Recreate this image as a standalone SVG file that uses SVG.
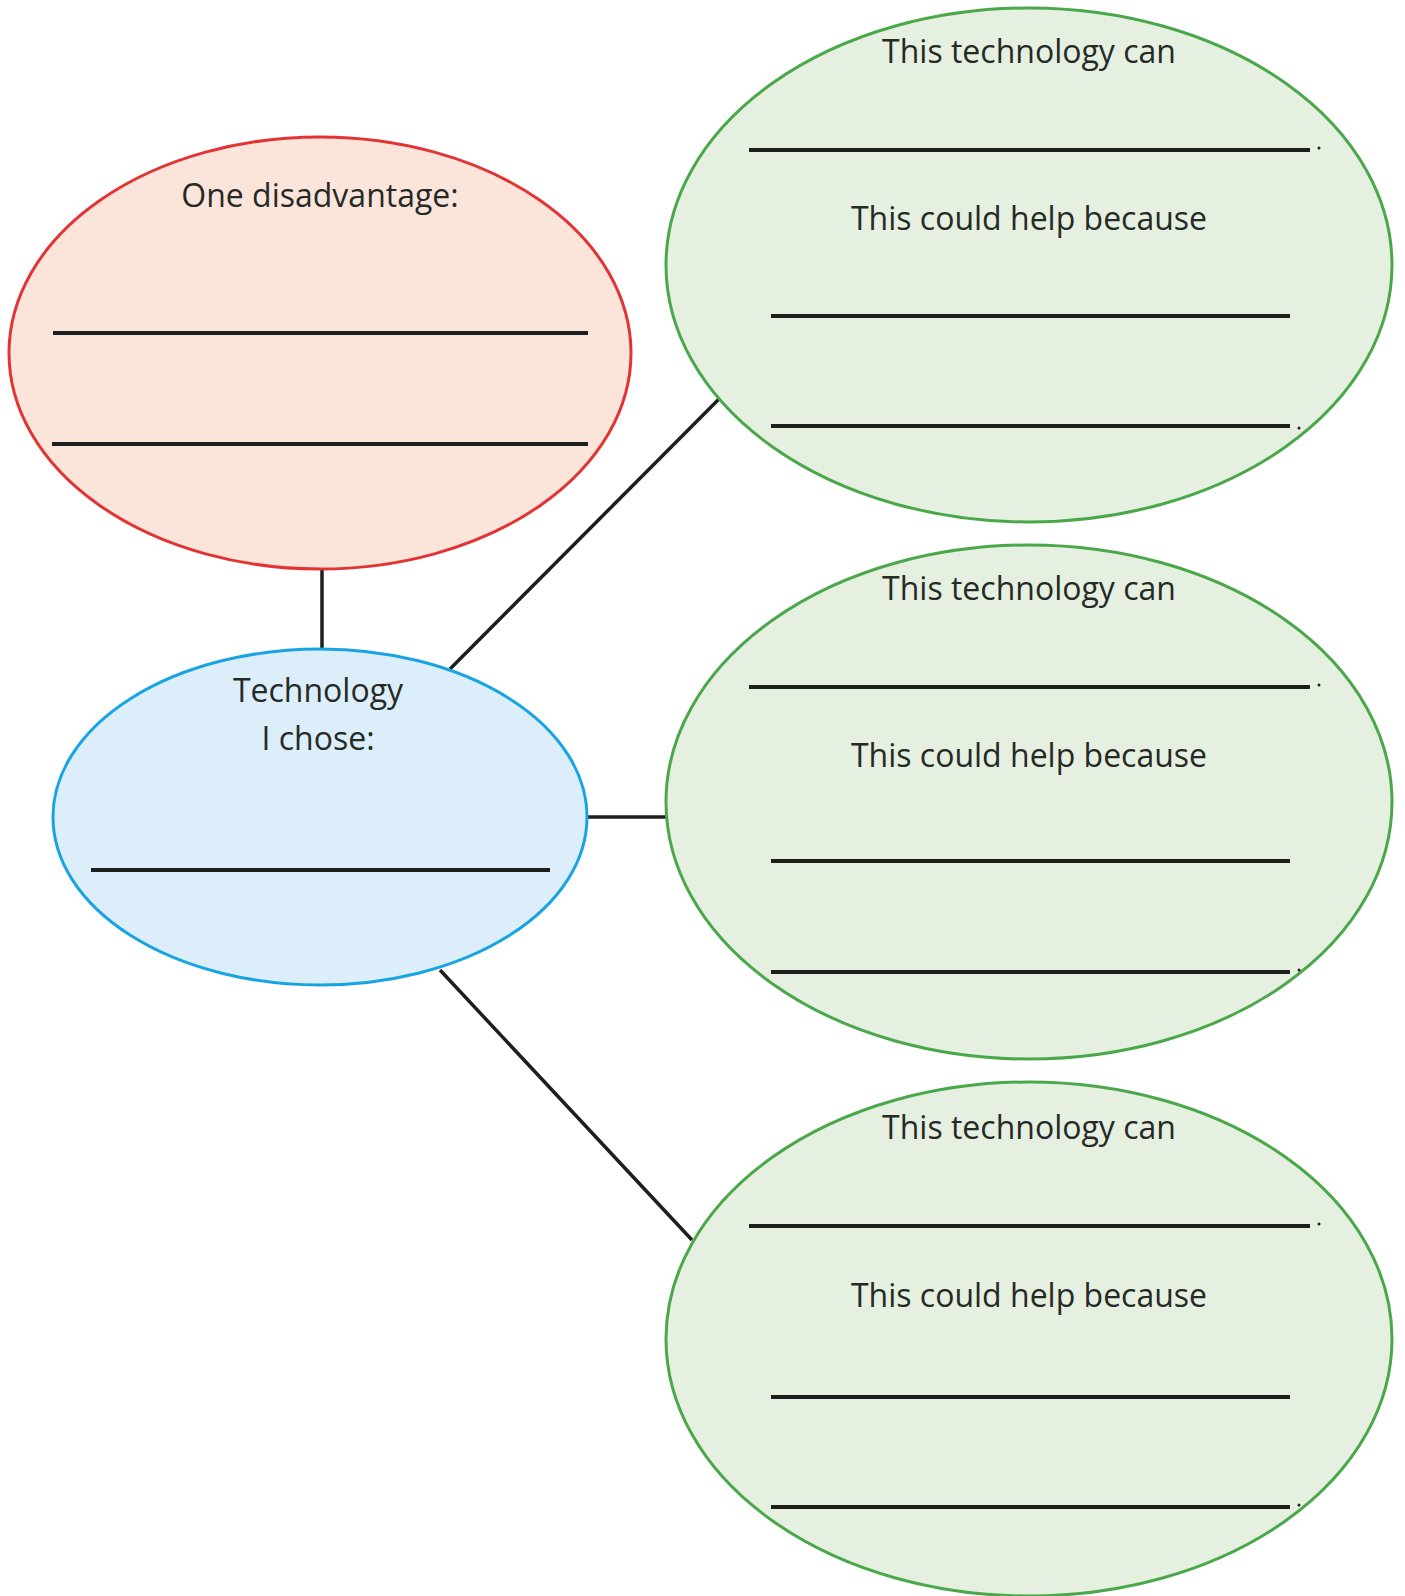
<svg xmlns="http://www.w3.org/2000/svg" width="1405" height="1596" viewBox="0 0 1405 1596">
<style>
.t{font-family:"Open Sans","Liberation Sans",sans-serif;font-size:32px;fill:#262a26;text-anchor:middle}
.w{stroke:#1c1f1c;stroke-width:4;fill:none}
.c{stroke:#1e1e1e;stroke-width:3.5;fill:none}
.g{fill:#e5f0e1;stroke:#4aa84a;stroke-width:3}
.d{fill:#1e1e1e}
</style>
<rect width="1405" height="1596" fill="#ffffff"/>
<g id="connectors">
<line class="c" x1="322" y1="570" x2="322" y2="650"/>
<line class="c" x1="450" y1="669" x2="719" y2="399"/>
<line class="c" x1="587" y1="817" x2="667" y2="817"/>
<line class="c" x1="440" y1="970" x2="692" y2="1240"/>
</g>
<g id="disadvantage">
<ellipse cx="320" cy="353" rx="311" ry="216" fill="#fbe5da" stroke="#e23434" stroke-width="3"/>
<text class="t" x="320" y="207">One disadvantage:</text>
<line class="w" x1="53" y1="333" x2="588" y2="333"/>
<line class="w" x1="52" y1="444" x2="588" y2="444"/>
</g>
<g id="technology">
<ellipse cx="320" cy="817" rx="267" ry="168" fill="#ddeefb" stroke="#18a4e3" stroke-width="3"/>
<text class="t" x="318" y="702">Technology</text>
<text class="t" x="318" y="750">I chose:</text>
<line class="w" x1="91" y1="870" x2="550" y2="870"/>
</g>
<g id="benefit1">
<ellipse class="g" cx="1029" cy="265" rx="363" ry="257"/>
<text class="t" x="1029" y="63">This technology can</text>
<line class="w" x1="749" y1="150" x2="1310" y2="150"/>
<circle class="d" cx="1319" cy="148" r="1.5"/>
<text class="t" x="1029" y="230">This could help because</text>
<line class="w" x1="771" y1="316" x2="1290" y2="316"/>
<line class="w" x1="771" y1="426" x2="1290" y2="426"/>
<circle class="d" cx="1299" cy="428" r="1.5"/>
</g>
<g id="benefit2">
<ellipse class="g" cx="1029" cy="802" rx="363" ry="257"/>
<text class="t" x="1029" y="600">This technology can</text>
<line class="w" x1="749" y1="687" x2="1310" y2="687"/>
<circle class="d" cx="1319" cy="685" r="1.5"/>
<text class="t" x="1029" y="767">This could help because</text>
<line class="w" x1="771" y1="861" x2="1290" y2="861"/>
<line class="w" x1="771" y1="972" x2="1290" y2="972"/>
<circle class="d" cx="1299" cy="970" r="1.5"/>
</g>
<g id="benefit3">
<ellipse class="g" cx="1029" cy="1339" rx="363" ry="257"/>
<text class="t" x="1029" y="1139">This technology can</text>
<line class="w" x1="749" y1="1226" x2="1310" y2="1226"/>
<circle class="d" cx="1319" cy="1224" r="1.5"/>
<text class="t" x="1029" y="1307">This could help because</text>
<line class="w" x1="771" y1="1397" x2="1290" y2="1397"/>
<line class="w" x1="771" y1="1507" x2="1290" y2="1507"/>
<circle class="d" cx="1299" cy="1505" r="1.5"/>
</g>
</svg>
